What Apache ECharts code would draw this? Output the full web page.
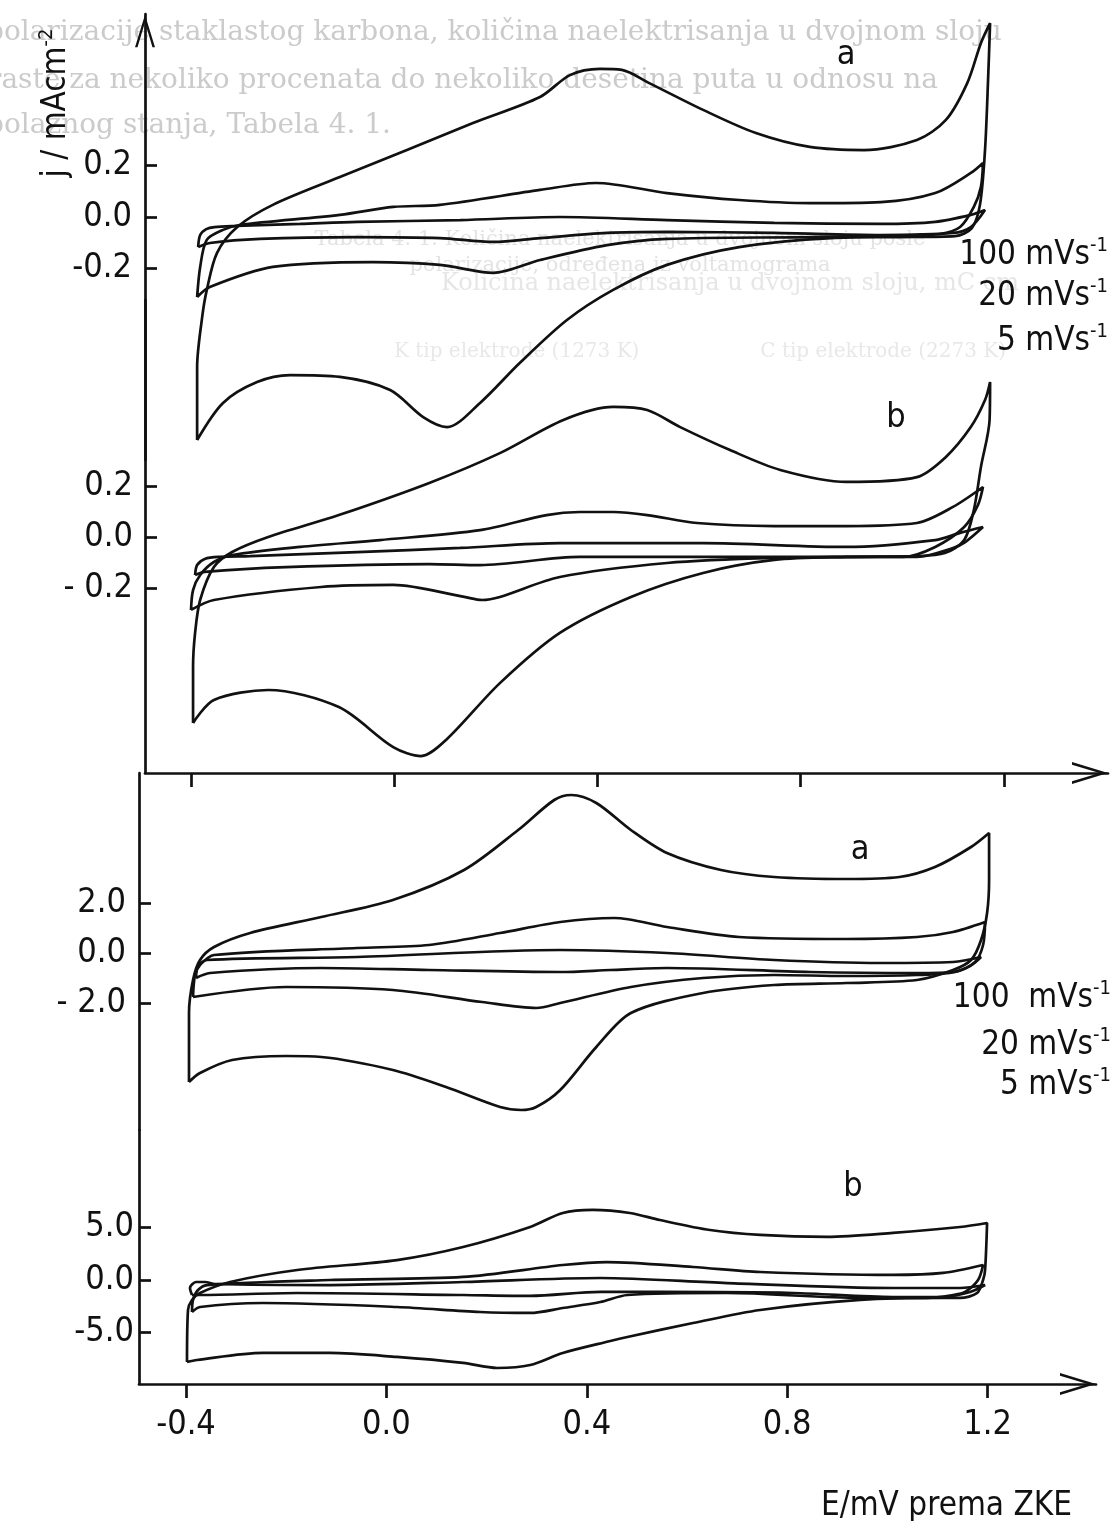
<!DOCTYPE html>
<html>
<head>
<meta charset="utf-8">
<script src="https://cdn.jsdelivr.net/npm/echarts@6/dist/echarts.min.js"></script>
<style>html,body{margin:0;padding:0;background:#fff}#c{width:1120px;height:1521px}</style>
</head>
<body>
<div id="c"></div>
<script>
// ---------------- data (E / V , j / mA cm^-2) ----------------
const xTickValues = [-0.4, 0.0, 0.4, 0.8, 1.2];
const xTickLabels = ['-0.4', '0.0', '0.4', '0.8', '1.2'];
const yTicksTop = [-0.2, 0.0, 0.2];
const yLabelsTopA = ['-0.2', '0.0', '0.2'];
const yLabelsTopB = ['- 0.2', '0.0', '0.2'];
const yTicksBotA = [-2.0, 0.0, 2.0];
const yLabelsBotA = ['- 2.0', '0.0', '2.0'];
const yTicksBotB = [-5.0, 0.0, 5.0];
const yLabelsBotB = ['-5.0', '0.0', '5.0'];
const scanRates = ['100 mVs', '20 mVs', '5 mVs'];
const scanRatesB = ['100  mVs', '20 mVs', '5 mVs'];

// upper figure, curve a
const topA100 = [[-0.388,-0.866],[-0.388,-0.583],[-0.378,-0.388],[-0.369,-0.284],[-0.349,-0.140],[-0.309,-0.039],[-0.239,0.047],[-0.107,0.155],[0.025,0.260],[0.155,0.365],[0.287,0.466],[0.346,0.551],[0.405,0.575],[0.448,0.571],[0.502,0.520],[0.608,0.416],[0.712,0.326],[0.818,0.272],[0.925,0.260],[1.029,0.299],[1.086,0.377],[1.128,0.520],[1.155,0.676],[1.173,0.753],[1.169,0.532],[1.163,0.260],[1.153,0.047],[1.137,-0.043],[1.104,-0.074],[0.996,-0.078],[0.860,-0.082],[0.679,-0.117],[0.537,-0.186],[0.431,-0.283],[0.340,-0.400],[0.247,-0.567],[0.169,-0.722],[0.104,-0.816],[0.057,-0.777],[-0.008,-0.672],[-0.107,-0.621],[-0.205,-0.614],[-0.270,-0.641],[-0.337,-0.722],[-0.388,-0.866]];
const topA20 = [[-0.388,-0.311],[-0.382,-0.194],[-0.369,-0.089],[-0.337,-0.050],[-0.304,-0.031],[-0.107,0.008],[-0.002,0.039],[0.090,0.047],[0.287,0.105],[0.397,0.132],[0.537,0.093],[0.679,0.066],[0.818,0.054],[0.958,0.058],[1.065,0.093],[1.135,0.171],[1.159,0.210],[1.155,0.117],[1.141,0.039],[1.114,-0.039],[1.074,-0.066],[1.029,-0.070],[0.818,-0.078],[0.537,-0.085],[0.419,-0.109],[0.287,-0.167],[0.195,-0.217],[0.090,-0.186],[-0.042,-0.175],[-0.239,-0.194],[-0.363,-0.272],[-0.388,-0.311]];
const topA5 = [[-0.386,-0.117],[-0.382,-0.070],[-0.370,-0.047],[-0.354,-0.039],[-0.311,-0.035],[-0.185,-0.027],[-0.073,-0.019],[0.130,-0.012],[0.326,0.0],[0.537,-0.012],[0.748,-0.023],[0.958,-0.027],[1.065,-0.019],[1.135,0.008],[1.163,0.027],[1.135,-0.039],[1.100,-0.062],[0.958,-0.070],[0.748,-0.062],[0.537,-0.058],[0.419,-0.062],[0.287,-0.082],[0.195,-0.097],[0.090,-0.082],[-0.073,-0.078],[-0.264,-0.085],[-0.363,-0.101],[-0.386,-0.117]];

// upper figure, curve b
const topB100 = [[-0.396,-0.729],[-0.396,-0.510],[-0.392,-0.376],[-0.382,-0.247],[-0.355,-0.118],[-0.319,-0.059],[-0.248,0.0],[-0.109,0.086],[0.069,0.212],[0.208,0.329],[0.333,0.459],[0.431,0.510],[0.498,0.498],[0.563,0.431],[0.661,0.341],[0.760,0.263],[0.890,0.216],[1.029,0.235],[1.086,0.314],[1.135,0.431],[1.163,0.537],[1.173,0.608],[1.172,0.459],[1.155,0.275],[1.141,0.106],[1.122,-0.012],[1.084,-0.063],[1.029,-0.075],[0.890,-0.078],[0.748,-0.090],[0.608,-0.141],[0.466,-0.235],[0.326,-0.376],[0.208,-0.573],[0.102,-0.796],[0.053,-0.859],[-0.002,-0.824],[-0.109,-0.667],[-0.248,-0.600],[-0.355,-0.639],[-0.396,-0.729]];
const topB20 = [[-0.400,-0.286],[-0.396,-0.208],[-0.382,-0.149],[-0.355,-0.098],[-0.319,-0.071],[-0.185,-0.039],[-0.028,-0.012],[0.169,0.027],[0.300,0.086],[0.365,0.098],[0.432,0.098],[0.498,0.086],[0.596,0.055],[0.748,0.043],[0.890,0.043],[1.029,0.055],[1.100,0.118],[1.159,0.196],[1.149,0.125],[1.122,0.039],[1.065,-0.039],[1.002,-0.078],[0.958,-0.078],[0.748,-0.082],[0.537,-0.102],[0.326,-0.157],[0.208,-0.235],[0.173,-0.247],[0.138,-0.235],[-0.002,-0.188],[-0.144,-0.196],[-0.355,-0.247],[-0.400,-0.286]];
const topB5 = [[-0.392,-0.149],[-0.388,-0.110],[-0.373,-0.086],[-0.343,-0.078],[-0.284,-0.075],[-0.073,-0.059],[0.130,-0.043],[0.326,-0.024],[0.608,-0.024],[0.890,-0.039],[1.065,-0.012],[1.114,0.016],[1.159,0.039],[1.124,-0.020],[1.100,-0.043],[1.029,-0.078],[0.748,-0.078],[0.365,-0.078],[0.169,-0.110],[0.069,-0.106],[-0.213,-0.118],[-0.373,-0.137],[-0.392,-0.149]];

// lower figure, curve a
const botA100 = [[-0.394,-5.16],[-0.394,-2.40],[-0.386,-1.08],[-0.372,-0.28],[-0.344,0.24],[-0.272,0.80],[-0.130,1.44],[0.013,2.12],[0.155,3.32],[0.263,4.92],[0.335,6.12],[0.369,6.32],[0.419,6.00],[0.488,4.92],[0.560,4.00],[0.668,3.32],[0.774,3.04],[0.918,2.96],[1.024,3.04],[1.095,3.44],[1.167,4.24],[1.203,4.80],[1.203,2.92],[1.199,1.60],[1.187,0.52],[1.167,-0.28],[1.131,-0.68],[1.059,-1.08],[0.918,-1.20],[0.774,-1.28],[0.632,-1.60],[0.488,-2.40],[0.419,-3.76],[0.347,-5.48],[0.299,-6.16],[0.269,-6.28],[0.227,-6.16],[0.119,-5.36],[0.013,-4.68],[-0.130,-4.16],[-0.200,-4.12],[-0.308,-4.28],[-0.372,-4.80],[-0.394,-5.16]];
const botA20 = [[-0.386,-1.76],[-0.382,-0.88],[-0.372,-0.48],[-0.344,-0.08],[-0.059,0.20],[0.085,0.32],[0.227,0.80],[0.347,1.24],[0.455,1.40],[0.560,1.04],[0.704,0.64],[0.918,0.56],[1.059,0.64],[1.131,0.84],[1.195,1.24],[1.191,0.32],[1.175,-0.36],[1.135,-0.76],[1.059,-0.88],[0.918,-0.92],[0.774,-0.88],[0.632,-1.00],[0.488,-1.36],[0.347,-2.00],[0.299,-2.20],[0.191,-1.96],[0.013,-1.48],[-0.200,-1.36],[-0.386,-1.76]];
const botA5 = [[-0.380,-1.00],[-0.376,-0.52],[-0.358,-0.28],[-0.059,-0.16],[0.347,0.12],[0.560,0.00],[0.774,-0.28],[0.988,-0.40],[1.131,-0.36],[1.187,-0.16],[1.165,-0.52],[1.131,-0.76],[1.059,-0.80],[0.846,-0.76],[0.560,-0.60],[0.447,-0.68],[0.347,-0.76],[0.085,-0.68],[-0.130,-0.60],[-0.352,-0.80],[-0.380,-1.00]];

// lower figure, curve b
const botB100 = [[-0.398,-7.81],[-0.396,-2.86],[-0.388,-1.90],[-0.372,-1.24],[-0.312,-0.19],[-0.178,0.95],[0.021,1.90],[0.153,3.14],[0.287,5.05],[0.352,6.38],[0.412,6.67],[0.486,6.38],[0.546,5.71],[0.646,4.76],[0.746,4.29],[0.880,4.10],[1.011,4.48],[1.145,5.05],[1.199,5.43],[1.195,0.95],[1.191,0.0],[1.179,-1.24],[1.145,-1.71],[1.111,-1.71],[0.946,-1.90],[0.746,-2.86],[0.612,-4.10],[0.481,-5.43],[0.447,-5.81],[0.352,-6.95],[0.287,-8.10],[0.221,-8.38],[0.153,-7.90],[0.021,-7.33],[-0.113,-6.95],[-0.246,-6.95],[-0.378,-7.62],[-0.398,-7.81]];
const botB20 = [[-0.388,-3.05],[-0.386,-1.90],[-0.376,-0.95],[-0.358,-0.48],[-0.112,0.0],[0.153,0.29],[0.352,1.43],[0.440,1.71],[0.612,1.24],[0.746,0.76],[1.011,0.48],[1.111,0.67],[1.191,1.43],[1.181,0.0],[1.155,-1.14],[1.131,-1.43],[1.079,-1.71],[0.946,-1.71],[0.680,-1.24],[0.481,-1.43],[0.427,-2.10],[0.352,-2.67],[0.287,-3.14],[0.187,-3.05],[0.021,-2.57],[-0.246,-2.19],[-0.372,-2.57],[-0.388,-3.05]];
const botB5 = [[-0.388,-1.43],[-0.392,-0.76],[-0.380,-0.19],[-0.362,-0.19],[-0.342,-0.38],[-0.112,-0.48],[0.153,-0.19],[0.427,0.19],[0.680,-0.29],[1.011,-0.76],[1.145,-0.76],[1.195,-0.48],[1.165,-1.14],[1.111,-1.62],[1.011,-1.62],[0.812,-1.24],[0.546,-1.14],[0.427,-1.14],[0.287,-1.52],[0.153,-1.43],[-0.178,-1.24],[-0.372,-1.43],[-0.388,-1.43]];

// page text faintly visible around the figure
const pageLines = [
  'polarizacije staklastog karbona, količina naelektrisanja u dvojnom sloju',
  'raste za nekoliko procenata do nekoliko desetina puta u odnosu na',
  'polaznog stanja, Tabela 4. 1.'
];
const tableLines = [
  'Tabela 4. 1. Količina naelektrisanja u dvojnom sloju posle',
  'polarizacije, određena iz voltamograma',
  'Količina naelektrisanja u dvojnom sloju, mC cm',
  'K tip elektrode (1273 K)                   C tip elektrode (2273 K)'
];

// ---------------- styling / layout ----------------
const FONT = '"Liberation Sans Narrow","DejaVu Sans Condensed","Roboto Condensed",Roboto,sans-serif';
const INK = '#111111';
const LW = 2.7;
const ARROW = 'path://M0,36L11,0L22,36L19.2,36L11,8.5L2.8,36Z';

function labelFrom(values, labels) {
  return function (v) {
    let best = 0;
    for (let i = 1; i < values.length; i++) if (Math.abs(values[i] - v) < Math.abs(values[best] - v)) best = i;
    return labels[best];
  };
}

function yAxis(grid, min, max, ticks, labels, margin, arrow) {
  return {
    type: 'value', gridIndex: grid, min: min, max: max,
    splitLine: { show: false },
    axisLine: { show: true, onZero: false, lineStyle: { color: INK, width: LW },
      symbol: arrow ? ['none', ARROW] : ['none', 'none'], symbolSize: [20, 34], symbolOffset: [0, -17] },
    axisTick: { show: true, inside: true, length: 12, customValues: ticks, lineStyle: { color: INK, width: LW } },
    axisLabel: { show: true, customValues: ticks, margin: margin, formatter: labelFrom(ticks, labels),
      fontFamily: FONT, fontSize: 34, color: INK }
  };
}

function xAxis(grid, min, max, visible, withLabels) {
  return {
    type: 'value', gridIndex: grid, min: min, max: max, show: visible,
    splitLine: { show: false },
    axisLine: { show: true, onZero: false, lineStyle: { color: INK, width: LW },
      symbol: ['none', ARROW], symbolSize: [22, 36], symbolOffset: [0, -18] },
    axisTick: { show: true, inside: false, length: 14, customValues: xTickValues, lineStyle: { color: INK, width: LW } },
    axisLabel: { show: withLabels, customValues: xTickValues, margin: 24, formatter: labelFrom(xTickValues, xTickLabels),
      fontFamily: FONT, fontSize: 34, color: INK }
  };
}

function curve(grid, data) {
  return { type: 'line', xAxisIndex: grid, yAxisIndex: grid, data: data, showSymbol: false, symbol: 'none',
    smooth: 0.3, clip: false, silent: true, z: 3, lineStyle: { color: INK, width: LW } };
}

function txt(x, y, text, size, align, extra) {
  return Object.assign({ type: 'text', x: x, y: y, silent: true, z: 5,
    style: { text: text, fill: INK, font: size + 'px ' + FONT, align: align || 'left', verticalAlign: 'middle',
      rich: { s: { fontSize: Math.round(size * 0.62), fontFamily: FONT, fill: INK, padding: [0, 0, Math.round(size * 0.55), 0] } } } }, extra || {});
}

function faint(x, y, text, size, color, align) {
  return { type: 'text', x: x, y: y, silent: true, z: -10,
    style: { text: text, fill: color, font: size + 'px "DejaVu Serif","Liberation Serif",serif', align: align || 'left', verticalAlign: 'middle' } };
}

const graphics = [
  faint(-14, 33, pageLines[0], 28, '#cbcbcb'),
  faint(-12, 81, pageLines[1], 28, '#cbcbcb'),
  faint(-14, 126, pageLines[2], 28, '#cbcbcb'),
  faint(620, 240, tableLines[0], 21, '#e3e3e3', 'center'),
  faint(620, 266, tableLines[1], 21, '#e3e3e3', 'center'),
  faint(730, 284, tableLines[2], 24, '#e6e6e6', 'center'),
  faint(700, 352, tableLines[3], 20, '#e8e8e8', 'center'),
  txt(56, 103, 'j / mAcm{s|-2}', 33, 'center', { rotation: Math.PI / 2 }),
  txt(846, 55, 'a', 34, 'center'),
  txt(896, 418, 'b', 34, 'center'),
  txt(860, 850, 'a', 34, 'center'),
  txt(853, 1187, 'b', 34, 'center'),
  txt(1108, 255, scanRates[0] + '{s|-1}', 33, 'right'),
  txt(1108, 296, scanRates[1] + '{s|-1}', 33, 'right'),
  txt(1108, 341, scanRates[2] + '{s|-1}', 33, 'right'),
  txt(1111, 998, scanRatesB[0] + '{s|-1}', 33, 'right'),
  txt(1111, 1045, scanRatesB[1] + '{s|-1}', 33, 'right'),
  txt(1111, 1085, scanRatesB[2] + '{s|-1}', 33, 'right'),
  txt(1072, 1506, 'E/mV prema ZKE', 33, 'right')
];

const option = {
  backgroundColor: '#ffffff',
  animation: false,
  grid: [
    { left: 145, top: 14, width: 963, height: 446 },
    { left: 145, top: 300, width: 963, height: 473 },
    { left: 139, top: 773, width: 957, height: 357 },
    { left: 139, top: 1130, width: 957, height: 254 }
  ],
  xAxis: [
    xAxis(0, -0.4906, 1.4051, false, false),
    xAxis(1, -0.4906, 1.4051, true, false),
    xAxis(2, -0.4938, 1.4164, false, false),
    xAxis(3, -0.4938, 1.4164, true, true)
  ],
  yAxis: [
    yAxis(0, -0.9437, 0.7883, yTicksTop, yLabelsTopA, 13, true),
    yAxis(1, -0.9255, 0.9294, yTicksTop, yLabelsTopB, 12, false),
    yAxis(2, -7.08, 7.2, yTicksBotA, yLabelsBotA, 13, false),
    yAxis(3, -9.905, 14.286, yTicksBotB, yLabelsBotB, 5, false)
  ],
  series: [
    curve(0, topA100), curve(0, topA20), curve(0, topA5),
    curve(1, topB100), curve(1, topB20), curve(1, topB5),
    curve(2, botA100), curve(2, botA20), curve(2, botA5),
    curve(3, botB100), curve(3, botB20), curve(3, botB5)
  ],
  graphic: graphics
};

const chart = echarts.init(document.getElementById('c'), null, { renderer: 'canvas' });
chart.setOption(option);
</script>
</body>
</html>
